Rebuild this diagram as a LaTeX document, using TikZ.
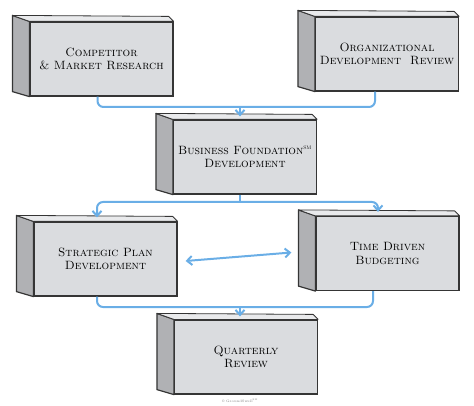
\documentclass[tikz,border=0pt]{standalone}
\usetikzlibrary{arrows.meta}
\definecolor{boxfront}{HTML}{DADCDF}
\definecolor{boxside}{HTML}{B0B1B4}
\definecolor{boxtop}{HTML}{E9EAEC}
\definecolor{boxline}{HTML}{353535}
\definecolor{flow}{HTML}{6AAEE6}
\tikzset{
  block/.style={rectangle,draw=boxline,line width=1.2pt,fill=boxfront,
    minimum width=143pt,minimum height=74pt,inner sep=0pt,align=center,
    font=\fontsize{12}{13.5}\selectfont\scshape},
  link/.style={draw=flow,line width=2pt,rounded corners=6pt},
  tip/.style={-{Straight Barb[length=5pt,width=9pt]}}
}
\begin{document}
\begin{tikzpicture}[x=1pt,y=-1pt]
      \useasboundingbox (0,0) rectangle (474,406);
      \draw (101.5,59) node [block] (comp) {Competitor\\\& Market Research};
      \draw (387,54) node [block] (org) {Organizational\\Development\ \ Review};
      \draw (245,157) node [block] (found) {Business Foundation\textsuperscript{\tiny SM}\\Development};
      \draw (105.5,259) node [block] (plan) {Strategic Plan\\Development};
      \draw (387.5,253.5) node [block] (budget) {Time Driven\\Budgeting};
      \draw (246,357) node [block] (review) {Quarterly\\Review};

      % side and top faces of the boxes
      \foreach \b in {comp,org,found,plan,budget,review} {
        \filldraw[fill=boxside,draw=boxline,line width=1.2pt,line join=round]
          (\b.north west) -- ++(-17,-6) -- ([shift={(-17,-5)}]\b.south west) -- (\b.south west) -- cycle;
        \filldraw[fill=boxtop,draw=boxline,line width=0.8pt,line join=round]
          (\b.north west) -- ++(-17,-6) -- ([shift={(-5,-5)}]\b.north east) -- (\b.north east) -- cycle;
      }

      \coordinate (join1) at (240,107);
      \coordinate (fork) at (240,202);
      \coordinate (join2) at (240,307);

      \draw[link] ([xshift=-4pt]comp.south) |- (join1) -| ([xshift=-12pt]org.south);
      \draw[link,tip,shorten >=3pt] (join1) -- (join1 |- found.north);

      \draw[link] (found.south -| fork) -- (fork);
      \draw[link,tip,shorten >=4pt] (fork) -| ([xshift=-8.5pt]plan.north);
      \draw[link,tip,shorten >=4pt] (fork) -| ([xshift=-9.5pt]budget.north);

      \draw[link,{Straight Barb[length=5pt,width=9pt]}-{Straight Barb[length=5pt,width=9pt]}]
        ([xshift=8pt,yshift=-2pt]plan.east) -- ([xshift=-24pt,yshift=1pt]budget.west);

      \draw[link] ([xshift=-8.5pt]plan.south) |- (join2) -| ([xshift=-14.5pt]budget.south);
      \draw[link,tip,shorten >=3pt] (join2) -- (join2 |- review.north);

      \draw (240,401) node [font=\fontsize{3.5}{4}\selectfont,text=gray] (credit) {\textcopyright{} GroundSwell\textsuperscript{SM}};
    \end{tikzpicture}
\end{document}
